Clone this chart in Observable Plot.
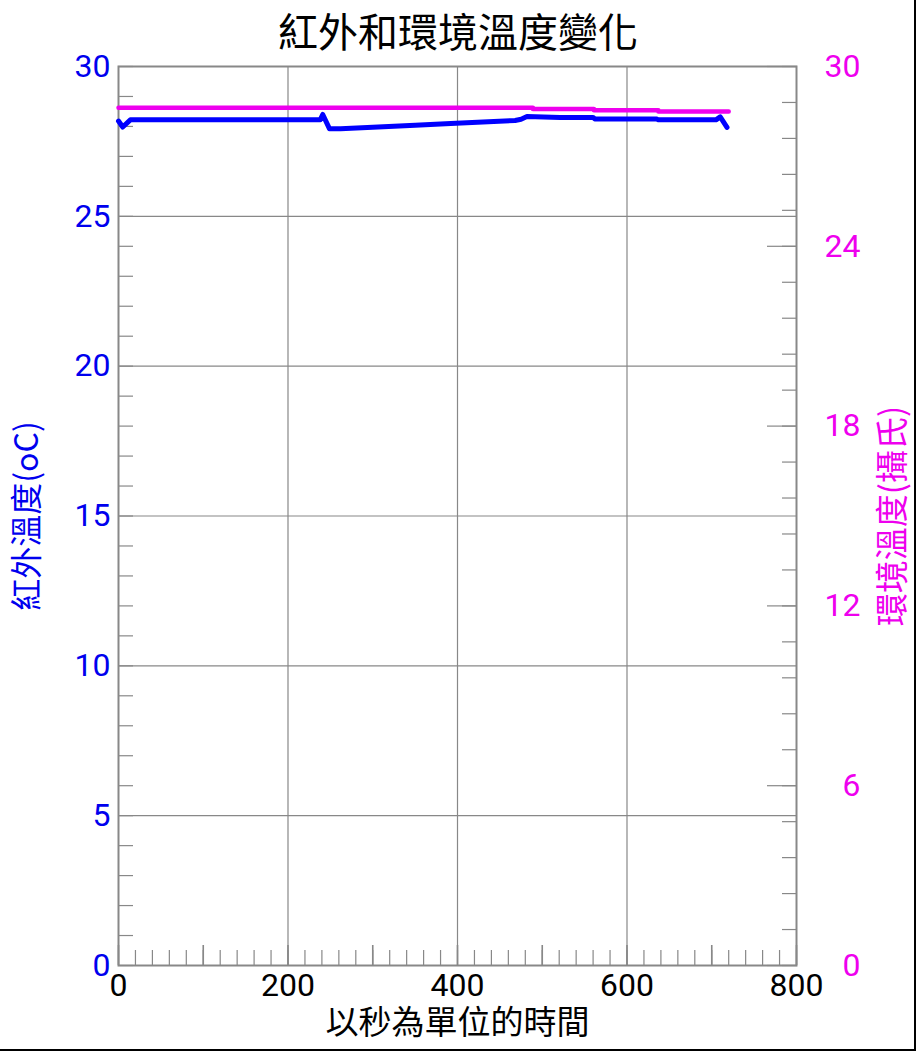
<!DOCTYPE html>
<html><head><meta charset="utf-8">
<script src="https://cdn.jsdelivr.net/npm/d3@7"></script>
<script src="https://cdn.jsdelivr.net/npm/@observablehq/plot@0.6"></script>
<style>
html,body{margin:0;padding:0;background:#fff;}
#wrap{position:relative;width:916px;height:1051px;overflow:hidden;background:#fff;}
#title{position:absolute;left:0;top:0;width:916px;text-align:center;font-family:"Noto Sans CJK TC",sans-serif;font-size:40px;line-height:60px;color:#000;}
#chart{position:absolute;left:0;top:0;}
#border{position:absolute;left:0;top:0;width:914px;height:1049px;border-right:2px solid #000;border-bottom:2px solid #000;pointer-events:none;}
</style></head><body>
<div id="wrap"><div id="chart"></div><div id="title">紅外和環境溫度變化</div><div id="border"></div></div>
<script>
// Infrared temperature (left axis, °C) over time (s)
const irTime = [0, 5, 14, 238, 241, 249, 262, 300, 350, 392, 430, 468, 475, 482, 521, 560, 562, 635, 637, 705, 710, 718];
const irTemp = [28.18, 27.98, 28.22, 28.22, 28.4, 27.92, 27.92, 27.97, 28.04, 28.10, 28.15, 28.20, 28.24, 28.33, 28.30, 28.30, 28.25, 28.25, 28.22, 28.22, 28.32, 27.97];
// Ambient temperature (right axis)
const ambTime = [0, 489, 561, 637, 720];
const ambTemp = [28.62, 28.58, 28.54, 28.50, 28.50];

const xTickLabels = [0, 200, 400, 600, 800];
const leftTickLabels = [0, 5, 10, 15, 20, 25, 30];
const rightTickLabels = [0, 6, 12, 18, 24, 30];
const xGrid = [200, 400, 600];
const yGrid = [5, 10, 15, 20, 25];

const titleText = "紅外和環境溫度變化";
const xLabel = "以秒為單位的時間";
const leftLabel = "紅外溫度(oC)";
const rightLabel = "環境溫度(攝氏)";

const irData = irTime.map((t, i) => ({t, v: irTemp[i]}));
const ambData = ambTime.map((t, i) => ({t, v: ambTemp[i]}));

const BLUE = "#0000ee", MAG = "#ee00ee", GRID = "#888888";
const CJK = "'Noto Sans CJK TC', sans-serif";

const chart = Plot.plot({
  width: 916, height: 1051,
  marginLeft: 118, marginRight: 120, marginTop: 66, marginBottom: 86,
  style: {fontFamily: "Roboto, 'Noto Sans CJK TC', sans-serif", background: "transparent", overflow: "visible"},
  x: {domain: [0, 800], label: null},
  y: {domain: [0, 30], label: null},
  marks: [
    Plot.gridX(xGrid, {stroke: GRID, strokeOpacity: 1, strokeWidth: 1.2}),
    Plot.gridY(yGrid, {stroke: GRID, strokeOpacity: 1, strokeWidth: 1.2}),
    // minor / medium ticks (inward)
    Plot.axisX(d3.range(0, 801, 20), {anchor: "bottom", tickSize: -15, fill: "none", stroke: GRID, strokeWidth: 1.2, label: null}),
    Plot.axisX(d3.range(0, 801, 100), {anchor: "bottom", tickSize: -20, fill: "none", stroke: GRID, strokeWidth: 1.6, label: null}),
    Plot.axisY(d3.range(0, 31, 1), {anchor: "left", tickSize: -15, fill: "none", stroke: GRID, strokeWidth: 1.2, label: null}),
    Plot.axisY(d3.range(0, 26).map(i => i * 1.2), {anchor: "right", tickSize: -15, fill: "none", stroke: GRID, strokeWidth: 1.2, label: null}),
    Plot.axisY(rightTickLabels, {anchor: "right", tickSize: -30, fill: "none", stroke: GRID, strokeWidth: 1.2, label: null}),
    // tick labels
    Plot.axisX(xTickLabels, {anchor: "bottom", tickSize: 0, tickPadding: 8, fontSize: 32, fill: "#000", label: null}),
    Plot.axisY(leftTickLabels, {anchor: "left", tickSize: 0, tickPadding: 8, fontSize: 32, fill: BLUE, label: null}),
    Plot.axisY(rightTickLabels, {anchor: "right", tickSize: 0, tickPadding: 0, textAnchor: "end", dx: 64, fontSize: 32, fill: MAG, label: null}),
    Plot.frame({stroke: GRID, strokeWidth: 2}),
    // data
    Plot.line(ambData, {x: "t", y: "v", stroke: MAG, strokeWidth: 4.5, curve: "step-after"}),
    Plot.line(irData, {x: "t", y: "v", stroke: "#0000ff", strokeWidth: 5}),
    // axis titles
    Plot.text([xLabel], {frameAnchor: "bottom", dy: 58, textAnchor: "middle", lineAnchor: "middle", fontSize: 33, fill: "#000", fontFamily: CJK}),
    Plot.text([leftLabel], {frameAnchor: "left", dx: -91, rotate: -90, textAnchor: "middle", lineAnchor: "middle", fontSize: 32, fill: BLUE, fontFamily: CJK}),
    Plot.text([rightLabel], {frameAnchor: "right", dx: 97, rotate: -90, textAnchor: "middle", lineAnchor: "middle", fontSize: 33, fill: MAG, fontFamily: CJK})
  ]
});
document.getElementById("chart").appendChild(chart);
</script>
</body></html>
